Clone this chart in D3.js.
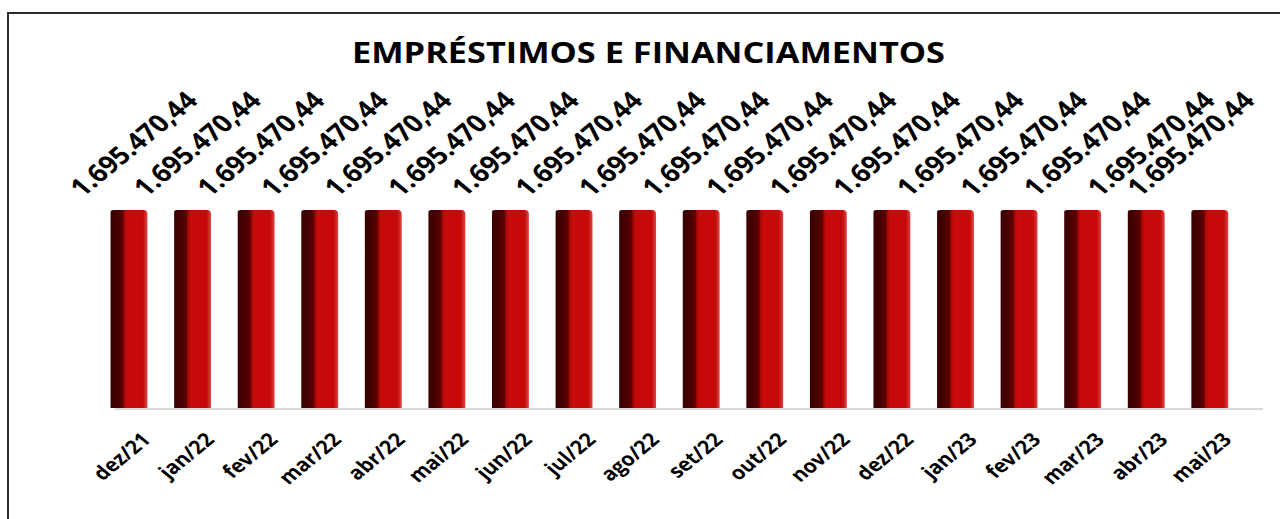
<!DOCTYPE html>
<html>
<head>
<meta charset="utf-8">
<script src="https://cdn.jsdelivr.net/npm/d3@7"></script>
<style>
  html, body { margin: 0; padding: 0; background: #fff; }
  svg { display: block; }
  text { font-family: "Open Sans", "Liberation Sans", sans-serif; font-weight: 700; fill: #000; }
</style>
</head>
<body>
<svg id="chart" width="1280" height="519"></svg>
<script>
const title = "EMPRÉSTIMOS E FINANCIAMENTOS";
const categories = ["dez/21","jan/22","fev/22","mar/22","abr/22","mai/22","jun/22","jul/22","ago/22","set/22","out/22","nov/22","dez/22","jan/23","fev/23","mar/23","abr/23","mai/23"];
const values = [1695470.44,1695470.44,1695470.44,1695470.44,1695470.44,1695470.44,1695470.44,1695470.44,1695470.44,1695470.44,1695470.44,1695470.44,1695470.44,1695470.44,1695470.44,1695470.44,1695470.44,1695470.44];

const fmt = v => {
  const [i, d] = v.toFixed(2).split(".");
  return i.replace(/\B(?=(\d{3})+(?!\d))/g, ".") + "," + d;
};

const svg = d3.select("#chart");
const SX = 1.22;   // horizontal stretch of the original picture
const GX = 0.92;   // narrower glyphs (Calibri-like)

// outer border
svg.append("rect").attr("x", 8).attr("y", 13).attr("width", 1300).attr("height", 600)
  .attr("fill", "none").attr("stroke", "#2b2b2b").attr("stroke-width", 2);

// title
svg.append("text").attr("x", 648.5).attr("y", 63).attr("text-anchor", "middle")
  .attr("textLength", 593).attr("lengthAdjust", "spacingAndGlyphs")
  .style("font-size", "28.5px").text(title);

const x = d3.scaleBand().domain(categories).range([97.2, 1241.6])
  .paddingInner(0.42).paddingOuter(0.21);
const y = d3.scaleLinear().domain([0, 2000000]).range([408, 174.4]);

const defs = svg.append("defs");
const g = defs.append("linearGradient").attr("id", "barGrad").attr("x1", 0).attr("x2", 1).attr("y1", 0).attr("y2", 0);
[[0, "#380000"], [0.2, "#480000"], [0.34, "#600000"], [0.38, "#a80606"], [0.46, "#c80a0a"], [0.88, "#c60808"], [1, "#d84848"]]
  .forEach(([o, c]) => g.append("stop").attr("offset", o).attr("stop-color", c));

// baseline
svg.append("line").attr("x1", 115).attr("x2", 1263).attr("y1", 409).attr("y2", 409)
  .attr("stroke", "#d9d9d9").attr("stroke-width", 2);

const bw = x.bandwidth();
const bars = svg.append("g").selectAll("g").data(categories).join("g");
bars.append("path")
  .attr("d", (c, i) => {
    const x0 = x(c), x1 = x0 + bw, yt = y(values[i]), yb = y(0);
    const r = 4;
    return `M${x0},${yb} L${x0},${yt + 2} Q${x0},${yt} ${x0 + 3},${yt} L${x1 - r},${yt} Q${x1},${yt} ${x1},${yt + r} L${x1},${yb} Z`;
  })
  .attr("fill", "url(#barGrad)");

// data labels
const labelAngle = -45;
const labelFont = 24.5;
const labelHalfW = 0.5 * 6.575 * labelFont * GX * Math.SQRT1_2 * SX;
svg.append("g").selectAll("text").data(categories).join("text")
  .attr("text-anchor", "middle")
  .attr("transform", (c, i) => {
    const cx = x(c) + bw / 2;
    const px = Math.min(cx + 12, 1262 - labelHalfW);
    return `translate(${px},${y(values[i]) - 60}) scale(${SX},1) rotate(${labelAngle}) scale(${GX},1)`;
  })
  .style("font-size", labelFont + "px")
  .text((c, i) => fmt(values[i]));

// x axis labels
svg.append("g").selectAll("text").data(categories).join("text")
  .attr("text-anchor", "end")
  .attr("transform", c => `translate(${x(c) + bw / 2 + 23},441) scale(${SX},1) rotate(${labelAngle}) scale(${GX},1)`)
  .style("font-size", "19px")
  .text(c => c);
</script>
</body>
</html>
